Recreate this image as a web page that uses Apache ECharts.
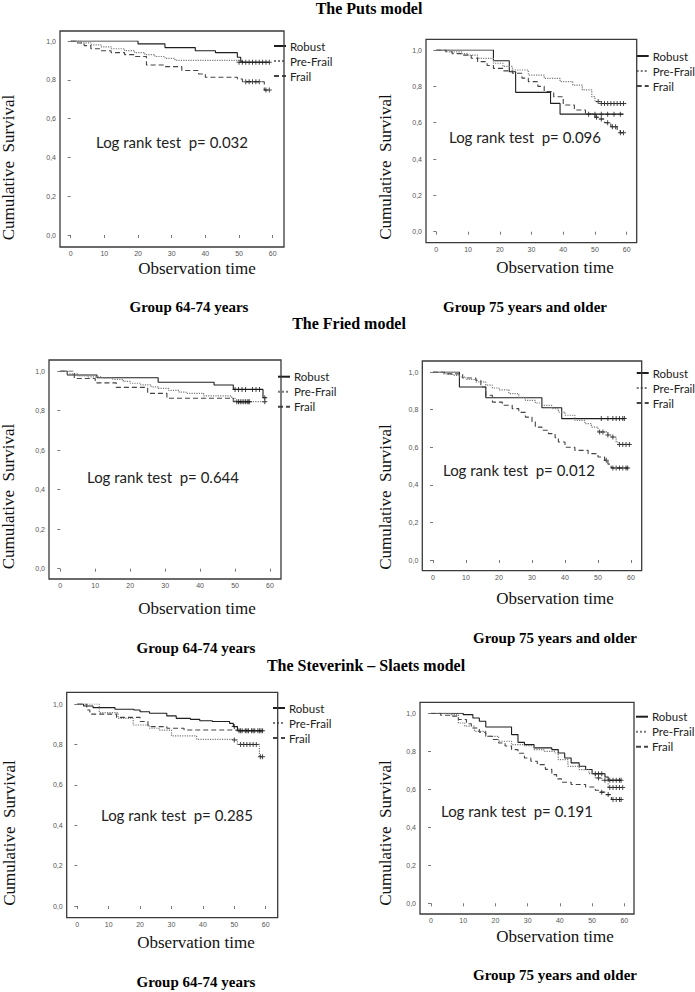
<!DOCTYPE html>
<html><head><meta charset="utf-8">
<script src="https://cdn.jsdelivr.net/npm/echarts@6/dist/echarts.min.js"></script>
<style>html,body{margin:0;padding:0;background:#fff}#chart{width:695px;height:992px}</style>
</head><body><div id="chart"></div>
<script>
// ---------- DATA ----------
const groupNames = ['Robust', 'Pre-Frail', 'Frail'];
const modelTitles = ['The Puts model', 'The Fried model', 'The Steverink \u2013 Slaets model'];
const ageGroups = ['Group 64-74 years', 'Group 75 years and older'];
const logRankP = ['0.032', '0.096', '0.644', '0.012', '0.285', '0.191'];
const xTickStep = 10, xMax = 60;
const yTickStep = 0.2, yMax = 1;

// Puts model, 64-74
const putsYoungRobust = [[0,1],[20,0.985],[28,0.966],[37,0.95],[43,0.94],[49.5,0.916],[50.5,0.895],[51,0.89],[59,0.89]];
const putsYoungPre = [[0,1],[3,0.99],[6,0.98],[9,0.97],[12,0.96],[16,0.95],[19,0.94],[22,0.93],[25,0.92],[28,0.91],[31,0.9],[50,0.89],[59,0.89]];
const putsYoungFrail = [[0,1],[2,0.99],[4,0.976],[6,0.96],[9,0.95],[12,0.94],[16,0.93],[19,0.92],[22.5,0.876],[28,0.868],[33,0.848],[38,0.83],[40,0.813],[49.5,0.804],[51,0.79],[57.5,0.747],[59,0.747]];
const putsYoungRobustCens = [51,53,55,57,59];
const putsYoungPreCens = [50,52,54,56,58];
const putsYoungFrailCens = [52,53,54,55,56,58,59];

// Puts model, 75+
const putsOldRobust = [[0,1],[18,0.941],[23,0.88],[25,0.767],[36,0.706],[39,0.647],[59,0.647]];
const putsOldPre = [[0,1],[4,0.99],[8,0.98],[10,0.972],[13,0.954],[18,0.927],[21,0.91],[24,0.89],[29,0.862],[34,0.844],[39,0.826],[43,0.807],[46,0.78],[49,0.743],[50,0.716],[52,0.705],[60,0.705]];
const putsOldFrail = [[0,1],[3,0.99],[5,0.98],[8,0.972],[11,0.955],[13,0.936],[16,0.915],[18,0.899],[21,0.885],[24,0.872],[27,0.845],[29,0.826],[32,0.8],[34,0.771],[37,0.743],[40,0.697],[43.5,0.67],[47,0.648],[50,0.63],[51,0.62],[53,0.6],[55,0.578],[57,0.556],[58,0.545],[59,0.545]];
const putsOldRobustCens = [48,50,52,54,56,58];
const putsOldPreCens = [51,52,53,54,55,56,57,58,59];
const putsOldFrailCens = [50.5,52,54,55.5,56.5,58,59];

// Fried model, 64-74
const friedYoungRobust = [[0,1],[2,0.98],[10.5,0.966],[28,0.943],[44,0.929],[49.5,0.907],[58,0.865],[59,0.865]];
const friedYoungPre = [[0,1],[2,0.985],[5,0.975],[8,0.97],[12,0.965],[15,0.958],[18,0.948],[20,0.938],[23,0.93],[26,0.92],[28,0.912],[31,0.902],[34,0.893],[36,0.887],[41,0.874],[49,0.862],[50,0.845],[59,0.845]];
const friedYoungFrail = [[0,1],[4,0.962],[10,0.94],[16,0.917],[25,0.887],[30.5,0.862],[49.5,0.845],[54,0.845]];
const friedYoungRobustCens = [50,51,52,53,55,56,57,58.5];
const friedYoungPreCens = [51,52,53,54,58.5];
const friedYoungFrailCens = [50.5,51.5,52.5,53.5,54];

// Fried model, 75+
const friedOldRobust = [[0,1],[8,0.92],[16,0.863],[33,0.81],[39,0.752],[58,0.752]];
const friedOldPre = [[0,1],[3,0.99],[6,0.982],[8,0.973],[10,0.96],[13,0.947],[16,0.93],[18,0.915],[20,0.905],[23,0.885],[26,0.865],[28,0.849],[31,0.835],[33,0.823],[36,0.805],[38,0.787],[40,0.77],[43,0.743],[46,0.725],[48,0.707],[50,0.681],[53,0.665],[54,0.654],[55.5,0.628],[56,0.615],[60,0.615]];
const friedOldFrail = [[0,1],[3.5,0.99],[9,0.968],[13,0.956],[14.5,0.92],[16,0.876],[18,0.84],[21,0.823],[24,0.805],[26,0.785],[28,0.76],[30,0.735],[31,0.707],[33,0.69],[35,0.672],[37,0.65],[38,0.628],[40,0.6],[43,0.583],[47,0.566],[50,0.548],[52,0.53],[53,0.51],[54,0.49],[59,0.49]];
const friedOldRobustCens = [51,53,54.5,55.5,56.5,57.5,58];
const friedOldPreCens = [50.5,51.5,53,54.5,56.5,57.5,58.5,59.5];
const friedOldFrailCens = [52.5,54.5,55.5,56.5,57.5,58.5,59];

// Steverink - Slaets model, 64-74
const stevYoungRobust = [[0,1],[2,0.99],[5,0.982],[12,0.974],[18,0.97],[20,0.962],[23,0.954],[28.5,0.941],[31.5,0.929],[36,0.924],[39,0.917],[43,0.913],[48.5,0.904],[49.7,0.888],[51,0.868],[59,0.868]];
const stevYoungPre = [[0,1],[7,0.957],[13,0.929],[17.8,0.896],[23,0.88],[26,0.871],[30,0.842],[38,0.825],[50,0.822],[51,0.8],[58,0.739],[59,0.739]];
const stevYoungFrail = [[0,1],[3,0.97],[4,0.95],[12.5,0.934],[20,0.913],[22.5,0.888],[28.5,0.88],[34,0.871],[50,0.868],[59,0.868]];
const stevYoungRobustCens = [50,51.5,52.5,53.5,54.5,55.5,56.5,57.5,58.5,59];
const stevYoungPreCens = [50,52,53,54,55,56,57,58.3,59];
const stevYoungFrailCens = [52,54,56,58];

// Steverink - Slaets model, 75+
const stevOldRobust = [[0,1],[10,0.993],[13,0.975],[15,0.958],[17,0.928],[25,0.888],[27,0.847],[29,0.835],[32,0.818],[37.5,0.809],[39.5,0.791],[41.5,0.765],[43.5,0.739],[46,0.721],[48,0.704],[50,0.682],[54,0.665],[55,0.648],[59,0.648]];
const stevOldPre = [[0,1],[6,0.993],[8.5,0.949],[10.5,0.932],[13.5,0.905],[17,0.879],[21,0.853],[25,0.835],[29,0.83],[32,0.809],[35,0.8],[38.5,0.791],[39.5,0.756],[42.5,0.721],[46,0.704],[49,0.682],[51,0.66],[53,0.647],[55,0.61],[59.5,0.61]];
const stevOldFrail = [[0,1],[3,0.99],[6,0.985],[8.5,0.967],[11,0.945],[12.5,0.923],[15,0.9],[17,0.879],[19,0.862],[21,0.844],[23,0.828],[25,0.809],[27,0.79],[29,0.765],[31,0.748],[33,0.73],[35.5,0.705],[37.5,0.677],[39,0.655],[40.5,0.637],[43.5,0.625],[48,0.612],[51,0.595],[52.5,0.585],[54,0.572],[56,0.546],[59,0.546]];
const stevOldRobustCens = [51,52,53,55.5,56.5,57.5,58.5,59];
const stevOldPreCens = [52,54,55.5,56.5,57.5,58.5,59.5];
const stevOldFrailCens = [53,55,56.5,57.5,58.5,59];

const curves = [
  [putsYoungRobust, putsYoungPre, putsYoungFrail],
  [putsOldRobust, putsOldPre, putsOldFrail],
  [friedYoungRobust, friedYoungPre, friedYoungFrail],
  [friedOldRobust, friedOldPre, friedOldFrail],
  [stevYoungRobust, stevYoungPre, stevYoungFrail],
  [stevOldRobust, stevOldPre, stevOldFrail]
];
const censors = [
  [putsYoungRobustCens, putsYoungPreCens, putsYoungFrailCens],
  [putsOldRobustCens, putsOldPreCens, putsOldFrailCens],
  [friedYoungRobustCens, friedYoungPreCens, friedYoungFrailCens],
  [friedOldRobustCens, friedOldPreCens, friedOldFrailCens],
  [stevYoungRobustCens, stevYoungPreCens, stevYoungFrailCens],
  [stevOldRobustCens, stevOldPreCens, stevOldFrailCens]
];

// ---------- LAYOUT (pixels) ----------
const layout = [
  {frame:[60,31,284,247], x0:70.7, x60:272.7, y1:41, y0:235, legend:[289,46], logrank:[96,142], ytitle:[8.5,167.5], xtitle:[197,268]},
  {frame:[426,39.3,636.7,242.7], x0:436.3, x60:626.7, y1:50, y0:231.7, legend:[651.7,56], logrank:[449,137], ytitle:[385,167], xtitle:[555,267]},
  {frame:[49,360,281,579], x0:60.3, x60:270, y1:371, y0:568.7, legend:[293,376.7], logrank:[87,476.7], ytitle:[8.5,496.5], xtitle:[197,608]},
  {frame:[422.3,361,641.7,570.7], x0:433, x60:631, y1:372, y0:560, legend:[651.7,373], logrank:[443,470], ytitle:[385,497], xtitle:[555,598]},
  {frame:[66.7,692.3,277.7,917.7], x0:77.3, x60:265.7, y1:704, y0:906, legend:[288,708], logrank:[101,815], ytitle:[9,833], xtitle:[196,942.7]},
  {frame:[420,702.3,634,914], x0:431, x60:624.3, y1:713.3, y0:903.3, legend:[651,716.7], logrank:[441,811], ytitle:[385,833], xtitle:[555,936.7]}
];
const titlePos = [[369,8.5],[349,323],[366,665]];
const groupLabelPos = [[[189,306.7],[525,306.5]],[[196,648],[555,638]],[[196,981.7],[555,975]]];

const lineStyles = [
  {color:'#1e1e1e', width:1.1, type:'solid'},
  {color:'#7a7a7a', width:1.2, type:'dotted'},
  {color:'#444444', width:1.1, type:[5,3]}
];
const plusPath = 'path://M4,0h2v10h-2z M0,4h10v2h-10z';
const serif = '"Liberation Serif","DejaVu Serif",serif';

function survivalAt(curve, t) {
  let s = curve[0][1];
  for (const p of curve) { if (p[0] <= t) s = p[1]; else break; }
  return s;
}

const grid = [], xAxis = [], yAxis = [], series = [], legend = [], graphic = [];
layout.forEach((L, i) => {
  grid.push({left: L.x0, top: L.y1, width: L.x60 - L.x0, height: L.y0 - L.y1, containLabel: false});
  xAxis.push({
    type:'value', gridIndex:i, min:0, max:xMax, interval:xTickStep,
    offset: L.frame[3] - L.y0,
    axisLine:{show:false}, splitLine:{show:false},
    axisTick:{show:true, length:3, lineStyle:{color:'#555', width:0.8}},
    axisLabel:{fontSize:7, color:'#555', margin:3, fontFamily:'"Liberation Sans",sans-serif'}
  });
  yAxis.push({
    type:'value', gridIndex:i, min:0, max:yMax, interval:yTickStep,
    offset: L.x0 - L.frame[0],
    axisLine:{show:false}, splitLine:{show:false},
    axisTick:{show:true, length:3, lineStyle:{color:'#555', width:0.8}},
    axisLabel:{fontSize:7, color:'#555', margin:4, fontFamily:'"Liberation Sans",sans-serif',
      formatter: v => v.toFixed(1).replace('.', ',')}
  });
  groupNames.forEach((name, g) => {
    series.push({
      type:'line', name: name, xAxisIndex:i, yAxisIndex:i, step:'end',
      data: curves[i][g], symbol:'none', showSymbol:false, silent:true,
      lineStyle: lineStyles[g], itemStyle:{color: lineStyles[g].color}, z:2
    });
  });
  groupNames.forEach((name, g) => {
    series.push({
      type:'scatter', name: name + ' censored', xAxisIndex:i, yAxisIndex:i, silent:true,
      data: censors[i][g].map(t => [t, survivalAt(curves[i][g], t)]),
      symbol: plusPath, symbolSize: 5, itemStyle:{color:'#1a1a1a'}, z:3
    });
  });
  legend.push({
    data: groupNames, orient:'vertical', left: L.legend[0] - 4 - 12, top: L.legend[1] - 7,
    padding:0, itemWidth:12, itemHeight:8, itemGap:1, selectedMode:false,
    itemStyle:{opacity:0},
    textStyle:{fontFamily:'Lato, "Open Sans", sans-serif', fontSize:11.5, lineHeight:14, color:'#222', padding:[0,0,0,-1]}
  });
  const f = L.frame;
  graphic.push({type:'rect', silent:true, z:5,
    shape:{x:f[0], y:f[1], width:f[2]-f[0], height:f[3]-f[1]},
    style:{fill:'none', stroke:'#3a3a3a', lineWidth:1.3}});
  graphic.push({type:'text', silent:true, x:L.logrank[0], y:L.logrank[1],
    style:{text:'Log rank test  p= ' + logRankP[i], fill:'#222',
      font:'15px Lato, "Open Sans", sans-serif', textAlign:'left', align:'left',
      textVerticalAlign:'middle', verticalAlign:'middle'}});
  graphic.push({type:'text', silent:true, x:L.ytitle[0], y:L.ytitle[1], rotation:Math.PI/2,
    style:{text:'Cumulative  Survival', fill:'#111', font:'17px ' + serif,
      textAlign:'center', align:'center', textVerticalAlign:'middle', verticalAlign:'middle'}});
  graphic.push({type:'text', silent:true, x:L.xtitle[0], y:L.xtitle[1],
    style:{text:'Observation time', fill:'#111', font:'17px ' + serif,
      textAlign:'center', align:'center', textVerticalAlign:'middle', verticalAlign:'middle'}});
});
modelTitles.forEach((t, r) => {
  graphic.push({type:'text', silent:true, x:titlePos[r][0], y:titlePos[r][1],
    style:{text:t, fill:'#000', font:'bold 16px ' + serif,
      textAlign:'center', align:'center', textVerticalAlign:'middle', verticalAlign:'middle'}});
  ageGroups.forEach((a, c) => {
    const p = groupLabelPos[r][c];
    graphic.push({type:'text', silent:true, x:p[0], y:p[1],
      style:{text:a, fill:'#000', font:'bold 15px ' + serif,
        textAlign:'center', align:'center', textVerticalAlign:'middle', verticalAlign:'middle'}});
  });
});

const chart = echarts.init(document.getElementById('chart'), null, {renderer:'svg', width:695, height:992});
chart.setOption({
  animation:false, backgroundColor:'#fff',
  grid, xAxis, yAxis, series, legend, graphic
});
</script>
</body></html>
